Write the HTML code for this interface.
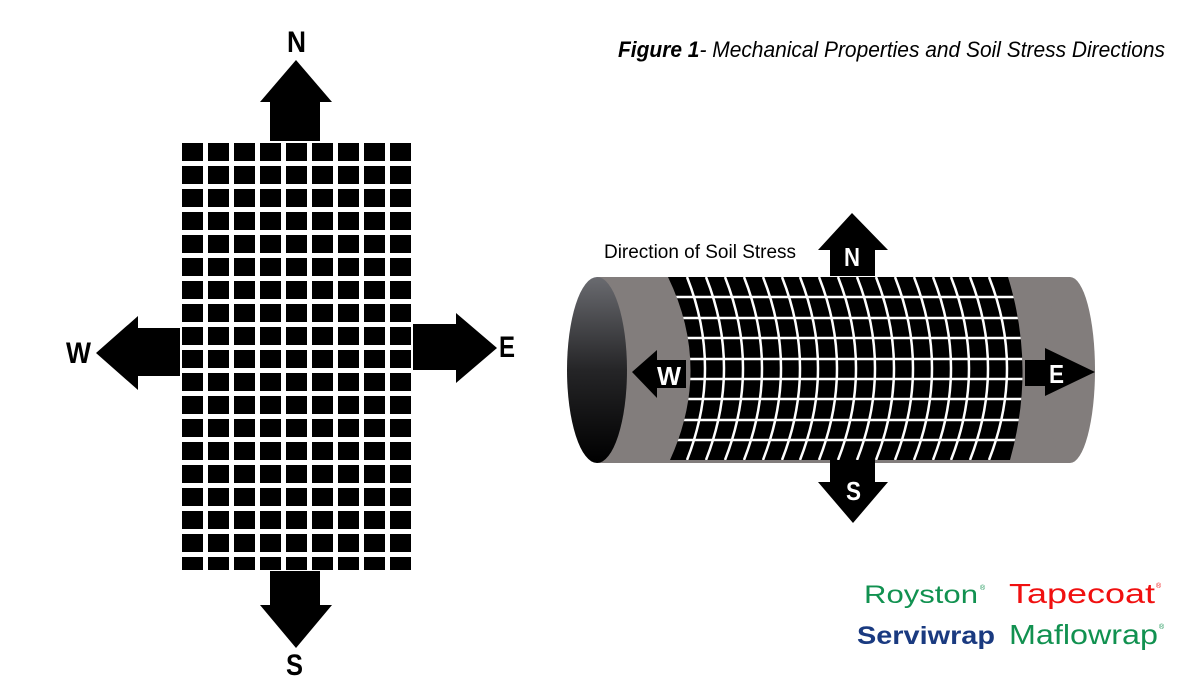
<!DOCTYPE html>
<html><head><meta charset="utf-8"><style>
html,body{margin:0;padding:0;background:#fff;}
svg{display:block;}
text{font-family:"Liberation Sans Narrow","Liberation Sans",sans-serif;}
</style></head><body>
<svg width="1200" height="698" viewBox="0 0 1200 698" xmlns="http://www.w3.org/2000/svg">
<defs>
<linearGradient id="endg" x1="0" y1="0" x2="0" y2="1">
<stop offset="0" stop-color="#6a6b70"/><stop offset="0.5" stop-color="#252527"/><stop offset="1" stop-color="#000"/>
</linearGradient>
<clipPath id="mc"><path d="M668,277 Q712,368 670,460 L1010,460 Q1036,368 1008,277 Z"/></clipPath>
<pattern id="gp" x="182" y="143" width="26" height="23" patternUnits="userSpaceOnUse"><rect width="21" height="18" fill="#000"/></pattern>
</defs>
<!-- Title -->
<text x="618" y="57" font-size="22" font-style="italic" textLength="547" lengthAdjust="spacingAndGlyphs"><tspan font-weight="bold">Figure 1</tspan>- Mechanical Properties and Soil Stress Directions</text>

<!-- Left arrows -->
<polygon points="296,60 332,102 320,102 320,150 270,150 270,102 260,102" fill="#000"/>
<polygon points="296,648 332,605 320,605 320,565 270,565 270,605 260,605" fill="#000"/>
<polygon points="96,353 138,316 138,328 185,328 185,376 138,376 138,390" fill="#000"/>
<polygon points="497,348 456,313 456,324 410,324 410,370 456,370 456,383" fill="#000"/>
<text x="287" y="52" font-size="30" font-weight="bold" textLength="19" lengthAdjust="spacingAndGlyphs">N</text>
<text x="66" y="363" font-size="30" font-weight="bold" textLength="25" lengthAdjust="spacingAndGlyphs">W</text>
<text x="499" y="357" font-size="30" font-weight="bold" textLength="16" lengthAdjust="spacingAndGlyphs">E</text>
<text x="286" y="675" font-size="30" font-weight="bold" textLength="17" lengthAdjust="spacingAndGlyphs">S</text>

<!-- Grid -->
<rect x="180" y="141" width="233" height="430" fill="#fff"/>
<rect x="182" y="143" width="230" height="427" fill="url(#gp)"/>

<!-- Cylinder -->
<rect x="597" y="277" width="473" height="186" fill="#827d7c"/>
<ellipse cx="1070" cy="370" rx="25" ry="93" fill="#827d7c"/>
<ellipse cx="597" cy="370" rx="30" ry="93" fill="url(#endg)"/>
<g clip-path="url(#mc)">
<rect x="660" y="277" width="390" height="183" fill="#000"/>
<g stroke="#fff" stroke-width="2.5" fill="none">
<path d="M687,277 Q723,368 687,460"/><path d="M706,277 Q742,368 706,460"/><path d="M725,277 Q761,368 725,460"/><path d="M744,277 Q780,368 744,460"/><path d="M763,277 Q799,368 763,460"/><path d="M782,277 Q818,368 782,460"/><path d="M800,277 Q836,368 800,460"/><path d="M819,277 Q855,368 819,460"/><path d="M838,277 Q874,368 838,460"/><path d="M857,277 Q893,368 857,460"/><path d="M876,277 Q912,368 876,460"/><path d="M895,277 Q931,368 895,460"/><path d="M914,277 Q950,368 914,460"/><path d="M933,277 Q969,368 933,460"/><path d="M951,277 Q987,368 951,460"/><path d="M970,277 Q1006,368 970,460"/><path d="M989,277 Q1025,368 989,460"/>
<path d="M660,297H1050M660,318H1050M660,338H1050M660,359H1050M660,379H1050M660,399H1050M660,420H1050M660,440H1050"/>
</g>
</g>
<!-- Cylinder arrows -->
<polygon points="852,213 888,250 875,250 875,276 830,276 830,250 818,250" fill="#000"/>
<polygon points="853,523 888,482 875,482 875,460 830,460 830,482 818,482" fill="#000"/>
<polygon points="632,372 657,350 657,360 686,360 686,388 657,388 657,398" fill="#000"/>
<polygon points="1095,372 1045,348 1045,360 1025,360 1025,386 1045,386 1045,396" fill="#000"/>
<text x="844" y="266" font-size="26" font-weight="bold" fill="#fff" textLength="16" lengthAdjust="spacingAndGlyphs">N</text>
<text x="846" y="500" font-size="26" font-weight="bold" fill="#fff" textLength="15" lengthAdjust="spacingAndGlyphs">S</text>
<text x="657" y="385" font-size="26" font-weight="bold" fill="#fff" textLength="24" lengthAdjust="spacingAndGlyphs">W</text>
<text x="1049" y="383" font-size="26" font-weight="bold" fill="#fff" textLength="15" lengthAdjust="spacingAndGlyphs">E</text>
<text x="604" y="258" font-size="19" textLength="192" lengthAdjust="spacingAndGlyphs">Direction of Soil Stress</text>

<!-- Logos -->
<text x="864" y="603" font-size="25" fill="#119150" textLength="114" lengthAdjust="spacingAndGlyphs" style="font-family:'Liberation Sans',sans-serif">Royston</text>
<text x="980" y="590" font-size="7" fill="#119150" style="font-family:'Liberation Sans',sans-serif">®</text>
<text x="1009" y="603" font-size="28" fill="#f01010" textLength="146" lengthAdjust="spacingAndGlyphs" style="font-family:'Liberation Sans',sans-serif">Tapecoat</text>
<text x="1156" y="588" font-size="7" fill="#f01010" style="font-family:'Liberation Sans',sans-serif">®</text>
<text x="857" y="644" font-size="25" font-weight="bold" fill="#1a3a80" textLength="138" lengthAdjust="spacingAndGlyphs" style="font-family:'Liberation Sans',sans-serif">Serviwrap</text>
<text x="1009" y="644" font-size="28" fill="#119150" textLength="149" lengthAdjust="spacingAndGlyphs" style="font-family:'Liberation Sans',sans-serif">Maflowrap</text>
<text x="1159" y="629" font-size="7" fill="#119150" style="font-family:'Liberation Sans',sans-serif">®</text>
</svg>
</body></html>
